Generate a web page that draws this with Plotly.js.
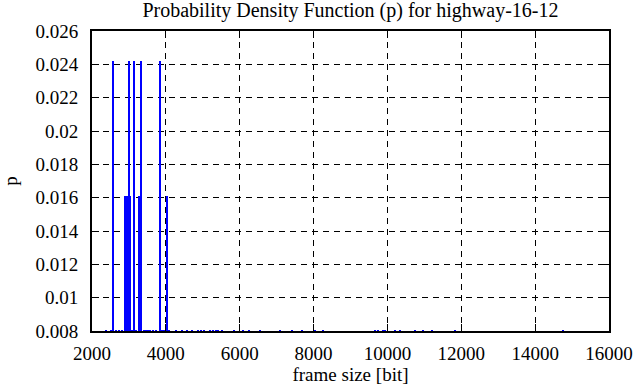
<!DOCTYPE html>
<html>
<head>
<meta charset="utf-8">
<script src="https://cdn.plot.ly/plotly-3.0.1.min.js"></script>
<style>
  html, body { margin: 0; padding: 0; background: #fff; }
  #chart { width: 636px; height: 387px; }
</style>
</head>
<body>
<div id="chart"></div>
<script>
// Frame sizes [bit] seen in the trace, and their probability density p
const frameSize = [
  2568, 3000, 3136, 3325, 3840,
  2900, 2940, 2980, 3025, 3271, 4030,
  2379, 2514, 2650, 2720, 2800, 3080, 3200, 3400, 3461, 3520, 3569, 3650, 3720, 3894, 3960,
  4083, 4272, 4434, 4570, 4705, 4867, 4948, 5030, 5192, 5273, 5354, 5408, 5517, 5841,
  6085, 6247, 6544, 7085, 7410, 7681, 8032, 8249, 9655, 9736, 9872, 9926, 10196, 10331,
  10737, 10953, 11197, 11819, 14767
];
const density = [
  0.02419, 0.02419, 0.02419, 0.02419, 0.02419,
  0.01613, 0.01613, 0.01613, 0.01613, 0.01613, 0.01613,
  0.00806, 0.00806, 0.00806, 0.00806, 0.00806, 0.00806, 0.00806, 0.00806, 0.00806, 0.00806, 0.00806, 0.00806, 0.00806, 0.00806, 0.00806,
  0.00806, 0.00806, 0.00806, 0.00806, 0.00806, 0.00806, 0.00806, 0.00806, 0.00806, 0.00806, 0.00806, 0.00806, 0.00806, 0.00806,
  0.00806, 0.00806, 0.00806, 0.00806, 0.00806, 0.00806, 0.00806, 0.00806, 0.00806, 0.00806, 0.00806, 0.00806, 0.00806, 0.00806,
  0.00806, 0.00806, 0.00806, 0.00806, 0.00806
];
const xTicks = [2000, 4000, 6000, 8000, 10000, 12000, 14000, 16000];
const yTicks = [0.008, 0.01, 0.012, 0.014, 0.016, 0.018, 0.02, 0.022, 0.024, 0.026];
const yTickText = ['0.008', '0.01', '0.012', '0.014', '0.016', '0.018', '0.02', '0.022', '0.024', '0.026'];

const FONT = "'Liberation Serif', 'DejaVu Serif', serif";

const trace = {
  type: 'bar',
  x: frameSize,
  y: density,
  width: 54,
  marker: { color: '#0000ff', line: { width: 0 } },
  hoverinfo: 'x+y'
};

const axisCommon = {
  showline: true,
  linecolor: '#000',
  linewidth: 2,
  mirror: 'allticks',
  ticks: 'inside',
  ticklen: 7,
  tickwidth: 1,
  tickcolor: '#000',
  showgrid: true,
  gridcolor: '#000',
  gridwidth: 1,
  griddash: '6px,5px',
  zeroline: false,
  layer: 'above traces',
  tickfont: { family: FONT, size: 19, color: '#000' }
};

const layout = {
  width: 636,
  height: 387,
  margin: { l: 92, r: 27, t: 31, b: 56 },
  paper_bgcolor: '#fff',
  plot_bgcolor: '#fff',
  showlegend: false,
  bargap: 0,
  title: {
    text: 'Probability Density Function (p) for highway-16-12',
    font: { family: FONT, size: 20, color: '#000' },
    x: 0.551, xanchor: 'center', y: 0.975, yanchor: 'middle'
  },
  xaxis: Object.assign({}, axisCommon, {
    range: [2000, 16000],
    tickvals: xTicks,
    ticktext: xTicks.map(String),
    ticklabelstandoff: 4,
    title: { text: 'frame size [bit]', font: { family: FONT, size: 19, color: '#000' }, standoff: 4 }
  }),
  yaxis: Object.assign({}, axisCommon, {
    range: [0.008, 0.026],
    tickvals: yTicks,
    ticktext: yTickText,
    ticklabelstandoff: 8,
    title: { text: 'p', font: { family: FONT, size: 19, color: '#000' }, standoff: 20 }
  })
};

Plotly.newPlot('chart', [trace], layout, { displayModeBar: false, staticPlot: true });
</script>
</body>
</html>
